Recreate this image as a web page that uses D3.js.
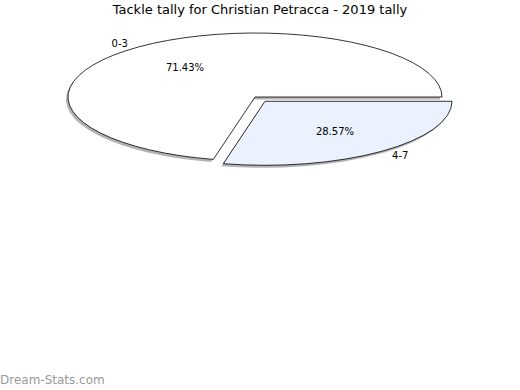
<!DOCTYPE html>
<html>
<head>
<meta charset="utf-8">
<script src="https://cdn.jsdelivr.net/npm/d3@7"></script>
<style>
  body { margin: 0; background: #fff; }
  text { font-family: "DejaVu Sans", sans-serif; }
</style>
</head>
<body>
<script>
var categories = ['0-3', '4-7'];
var values = [5, 2];
var percentLabels = ['71.43%', '28.57%'];
var colors = ['#ffffff', '#ebf1fe'];
var exploded = [false, true];

var width = 520;
var height = 390;
var cx = 255, cy = 97;
var rx = 187, ry = 64;

var svg = d3.select("body").append("svg")
    .attr("width", width).attr("height", height);

svg.append("text")
    .attr("x", 260).attr("y", 14)
    .attr("text-anchor", "middle")
    .style("font-size", "13px")
    .text("Tackle tally for Christian Petracca - 2019 tally");

var share = values[0] / d3.sum(values);
var start = Math.PI / 2 - 2 * Math.PI * share;

var pie = d3.pie().sort(null)
    .startAngle(start)
    .endAngle(start + 2 * Math.PI);

var arc = d3.arc().innerRadius(0).outerRadius(1);

var slices = pie(values).map(function (d, i) {
    var mid = (d.startAngle + d.endAngle) / 2;
    var k = exploded[i] ? 0.0858 : 0;
    d.mid = mid;
    d.ox = k * rx * Math.sin(mid);
    d.oy = -k * ry * Math.cos(mid);
    d.i = i;
    return d;
});

function place(d, dx, dy) {
    return "translate(" + (cx + d.ox + dx) + "," + (cy + d.oy + dy) + ") scale(" + rx + "," + ry + ")";
}

// shadow
svg.append("g").selectAll("path").data(slices).enter().append("path")
    .attr("d", arc)
    .attr("transform", function (d) { return place(d, -2, 2.5); })
    .attr("fill", "#999")
    .attr("opacity", 0.75);

svg.append("g").selectAll("path").data(slices).enter().append("path")
    .attr("d", arc)
    .attr("transform", function (d) { return place(d, 0, 0); })
    .attr("fill", function (d) { return colors[d.i]; })
    .attr("stroke", "#000")
    .attr("stroke-width", 0.8)
    .attr("vector-effect", "non-scaling-stroke");

function pos(d, fx, fy) {
    return [cx + d.ox + fx * rx * Math.sin(d.mid), cy + d.oy - fy * ry * Math.cos(d.mid)];
}

var labels = svg.append("g").style("font-size", "10px");
slices.forEach(function (d) {
    var p = pos(d, 0.6, 0.6);
    labels.append("text")
        .attr("x", p[0]).attr("y", p[1] + 4)
        .attr("text-anchor", "middle")
        .text(percentLabels[d.i]);
    var q = pos(d, 1.16, 1.08);
    labels.append("text")
        .attr("x", q[0]).attr("y", q[1] + 4)
        .attr("text-anchor", "middle")
        .text(categories[d.i]);
});

svg.append("text")
    .attr("x", 0).attr("y", 384)
    .style("font-size", "12px")
    .attr("fill", "#999")
    .text("Dream-Stats.com");
</script>
</body>
</html>
